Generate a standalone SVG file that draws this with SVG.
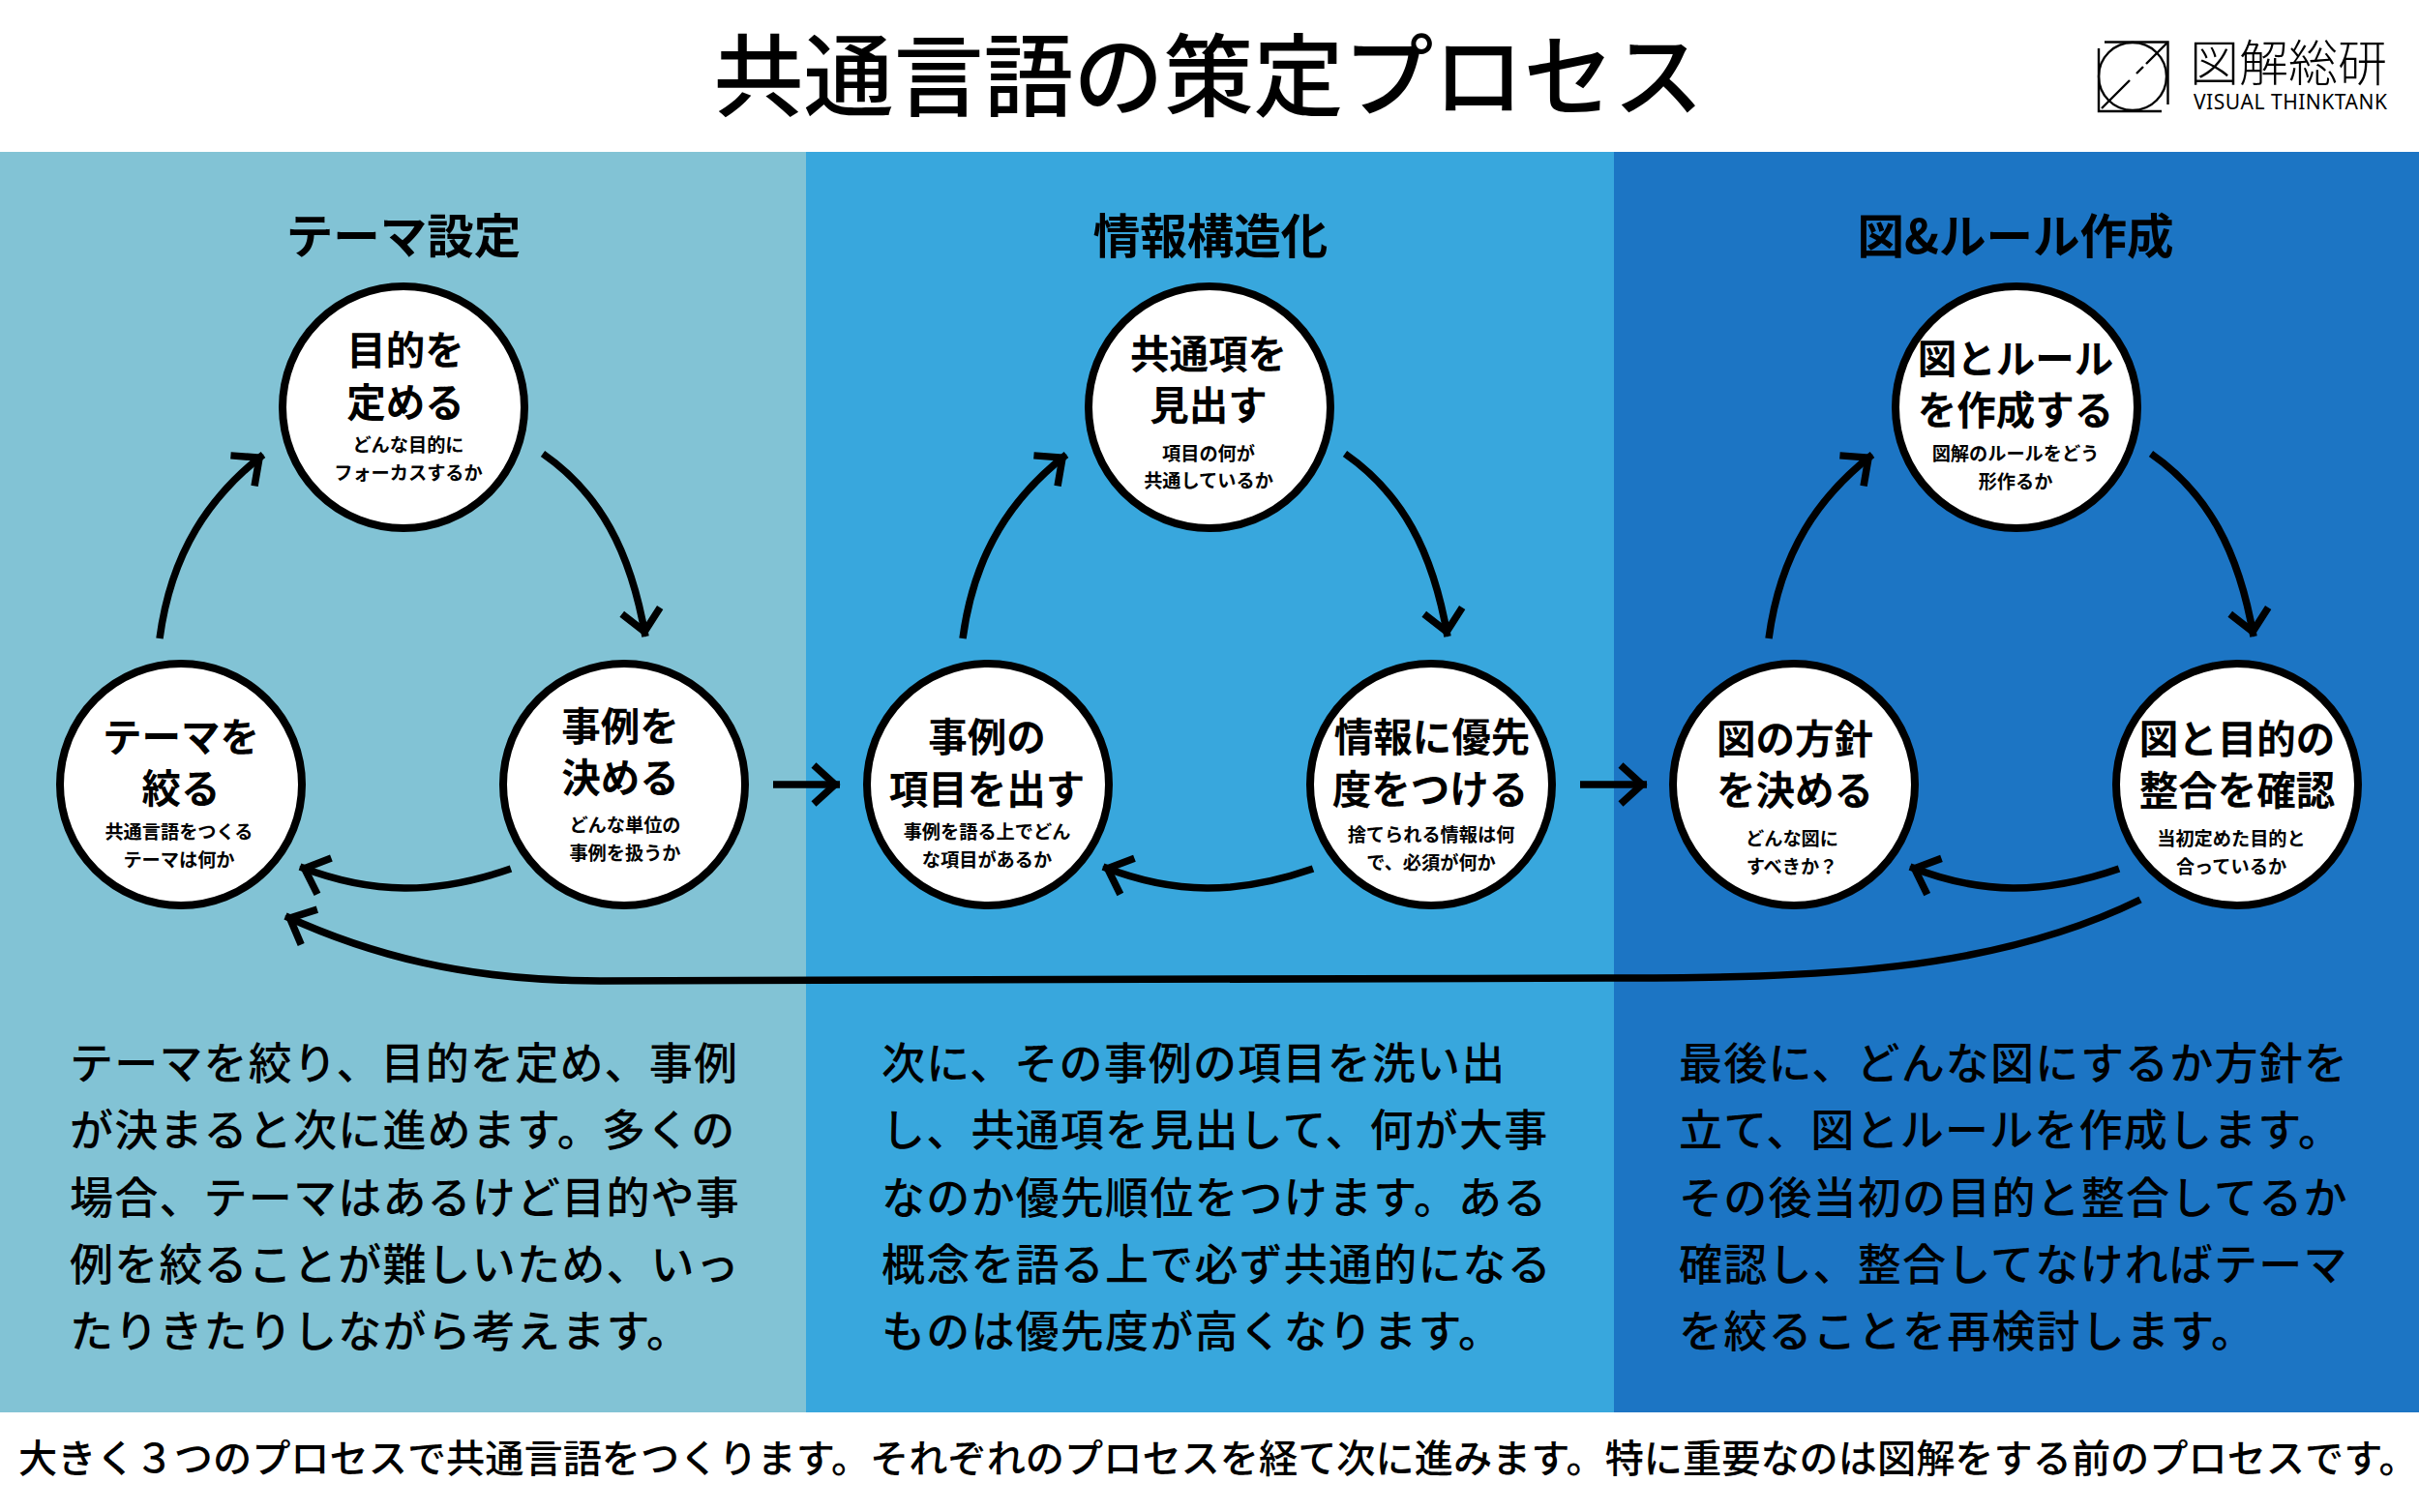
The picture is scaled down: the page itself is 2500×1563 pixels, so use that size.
<svg xmlns="http://www.w3.org/2000/svg" width="2500" height="1563" viewBox="0 0 2500 1563">
<style>
text{font-family:"Noto Sans CJK JP","Noto Sans",sans-serif;fill:#000}
.title{font-size:93px;font-weight:500;text-anchor:middle}
.head{font-size:48.500px;font-weight:700;text-anchor:middle}
.main{font-size:40.500px;font-weight:700;text-anchor:middle}
.sub{font-size:19.2px;font-weight:700;text-anchor:middle}
.body{font-size:45px;font-weight:500;letter-spacing:1.2px}
.foot{font-size:40.2px;font-weight:500}
.node{fill:#fff;stroke:#000;stroke-width:8}
.conn{fill:none;stroke:#000;stroke-width:7.500}
.logo{fill:none;stroke:#000;stroke-width:2.4}
</style>
<defs>
<marker id="ah" markerUnits="userSpaceOnUse" viewBox="-35 -30 45 60" refX="5" refY="0" markerWidth="45" markerHeight="60" orient="auto"><path d="M-22,-20 L0,0 L-22,20" fill="none" stroke="#000" stroke-width="7.500"/></marker>
</defs>
<rect width="2500" height="1563" fill="#fff"/>
<rect x="0" y="157" width="833" height="1303" fill="#82C3D5"/>
<rect x="833" y="157" width="835" height="1303" fill="#38A7DD"/>
<rect x="1668" y="157" width="832" height="1303" fill="#1C75C4"/>
<text class="title" x="1249" y="113">共通言語の策定プロセス</text>
<g id="logo">
<path class="logo" d="M2175 43.500H2240.500V108M2169 50V115H2234"/>
<circle class="logo" cx="2204" cy="79" r="35"/>
<path class="logo" d="M2240 44L2218 66M2215 69L2208 76M2201 83L2172 112"/>
<text x="2263" y="84" style="font-size:51px;font-weight:300">図解総研</text>
<text x="2267" y="113" textLength="200" style="font-size:21px;font-weight:400;font-family:'Noto Sans',sans-serif">VISUAL THINKTANK</text>
</g>
<text class="head" x="417" y="262">テーマ設定</text>
<text class="head" x="1251" y="262">情報構造化</text>
<text class="head" x="2083" y="262">図&amp;ルール作成</text>
<g id="connectors">
<path class="conn" marker-end="url(#ah)" d="M165 660C177 570 217 513 272 470"/>
<path class="conn" marker-end="url(#ah)" d="M561 469C620 510 652 570 667 658"/>
<path class="conn" marker-end="url(#ah)" d="M528 898C450 925 385 925 310 896"/>
<path class="conn" marker-end="url(#ah)" d="M995 660C1007 570 1047 513 1102 470"/>
<path class="conn" marker-end="url(#ah)" d="M1390 469C1449 510 1481 570 1496 658"/>
<path class="conn" marker-end="url(#ah)" d="M1357 898C1279 925 1214 925 1140 896"/>
<path class="conn" marker-end="url(#ah)" d="M1828 660C1840 570 1880 513 1935 470"/>
<path class="conn" marker-end="url(#ah)" d="M2223 469C2282 510 2314 570 2329 658"/>
<path class="conn" marker-end="url(#ah)" d="M2190 898C2112 925 2047 925 1974 896"/>
<path class="conn" marker-end="url(#ah)" d="M799 811H868"/>
<path class="conn" marker-end="url(#ah)" d="M1633 811H1702"/>
<path class="conn" marker-end="url(#ah)" d="M2212 930C2060 1005 1880 1011 1660 1011L620 1014C480 1014 380 986 295 947"/>
</g>
<g id="n1"><circle class="node" cx="417" cy="421" r="125"/><text class="main" x="419" y="377">目的を</text><text class="main" x="419" y="431">定める</text><text class="sub" x="422" y="467">どんな目的に</text><text class="sub" x="422" y="496">フォーカスするか</text></g>
<g id="n2"><circle class="node" cx="645" cy="811" r="125"/><text class="main" x="641" y="766">事例を</text><text class="main" x="641" y="819">決める</text><text class="sub" x="646" y="860">どんな単位の</text><text class="sub" x="646" y="889">事例を扱うか</text></g>
<g id="n3"><circle class="node" cx="187" cy="811" r="125"/><text class="main" x="187" y="777">テーマを</text><text class="main" x="187" y="830">絞る</text><text class="sub" x="185" y="867">共通言語をつくる</text><text class="sub" x="185" y="896">テーマは何か</text></g>
<g id="n4"><circle class="node" cx="1250" cy="421" r="125"/><text class="main" x="1249" y="381">共通項を</text><text class="main" x="1249" y="434">見出す</text><text class="sub" x="1249" y="476">項目の何が</text><text class="sub" x="1249" y="504">共通しているか</text></g>
<g id="n5"><circle class="node" cx="1479" cy="811" r="125"/><text class="main" x="1480" y="777">情報に優先</text><text class="main" x="1478" y="831">度をつける</text><text class="sub" x="1479" y="870">捨てられる情報は何</text><text class="sub" x="1479" y="899">で、必須が何か</text></g>
<g id="n6"><circle class="node" cx="1021" cy="811" r="125"/><text class="main" x="1020" y="777">事例の</text><text class="main" x="1020" y="831">項目を出す</text><text class="sub" x="1020" y="867">事例を語る上でどん</text><text class="sub" x="1020" y="896">な項目があるか</text></g>
<g id="n7"><circle class="node" cx="2084" cy="421" r="125"/><text class="main" x="2083" y="386">図とルール</text><text class="main" x="2083" y="439">を作成する</text><text class="sub" x="2083" y="476">図解のルールをどう</text><text class="sub" x="2083" y="505">形作るか</text></g>
<g id="n8"><circle class="node" cx="2312" cy="811" r="125"/><text class="main" x="2312" y="779">図と目的の</text><text class="main" x="2312" y="832">整合を確認</text><text class="sub" x="2306" y="874">当初定めた目的と</text><text class="sub" x="2306" y="903">合っているか</text></g>
<g id="n9"><circle class="node" cx="1854" cy="811" r="125"/><text class="main" x="1855" y="779">図の方針</text><text class="main" x="1855" y="832">を決める</text><text class="sub" x="1852" y="874">どんな図に</text><text class="sub" x="1852" y="903">すべきか？</text></g>
<g>
<text class="body" x="72" y="1116">テーマを絞り、目的を定め、事例</text>
<text class="body" x="72" y="1185">が決まると次に進めます。多くの</text>
<text class="body" x="72" y="1255">場合、テーマはあるけど目的や事</text>
<text class="body" x="72" y="1324">例を絞ることが難しいため、いっ</text>
<text class="body" x="72" y="1393">たりきたりしながら考えます。</text>
<text class="body" x="911" y="1116">次に、その事例の項目を洗い出</text>
<text class="body" x="911" y="1185">し、共通項を見出して、何が大事</text>
<text class="body" x="911" y="1255">なのか優先順位をつけます。ある</text>
<text class="body" x="911" y="1324">概念を語る上で必ず共通的になる</text>
<text class="body" x="911" y="1393">ものは優先度が高くなります。</text>
<text class="body" x="1735" y="1116">最後に、どんな図にするか方針を</text>
<text class="body" x="1735" y="1185">立て、図とルールを作成します。</text>
<text class="body" x="1735" y="1255">その後当初の目的と整合してるか</text>
<text class="body" x="1735" y="1324">確認し、整合してなければテーマ</text>
<text class="body" x="1735" y="1393">を絞ることを再検討します。</text>
</g>
<text class="foot" x="19" y="1522">大きく３つのプロセスで共通言語をつくります。それぞれのプロセスを経て次に進みます。特に重要なのは図解をする前のプロセスです。</text>
</svg>
